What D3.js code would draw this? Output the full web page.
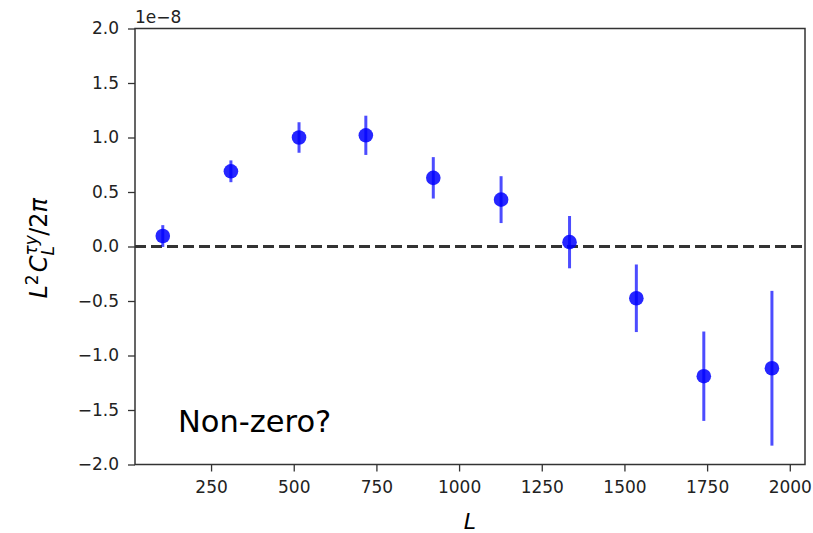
<!DOCTYPE html>
<html>
<head>
<meta charset="utf-8">
<script src="https://cdn.jsdelivr.net/npm/d3@7"></script>
<style>
  body { margin: 0; background: #fff; }
  text { font-family: "DejaVu Sans", sans-serif; }
</style>
</head>
<body>
<svg id="chart" width="813" height="533"></svg>
<script>
// binned L centres, cross-spectrum values (units of 1e-8) and 1-sigma errors
const ells = [104, 310, 516, 718, 922, 1127, 1334, 1536, 1740, 1946];
const vals = [0.096, 0.69, 1.0, 1.02, 0.63, 0.43, 0.04, -0.475, -1.19, -1.117];
const errs = [0.10, 0.10, 0.14, 0.18, 0.19, 0.215, 0.24, 0.31, 0.41, 0.71];

const xTicks = [250, 500, 750, 1000, 1250, 1500, 1750, 2000];
const yTicks = [-2.0, -1.5, -1.0, -0.5, 0.0, 0.5, 1.0, 1.5, 2.0];

const margin = {left: 135, right: 8, top: 28.5, bottom: 68.5};
const W = 813, H = 533;

let svg = d3.select("#chart");

let x = d3.scaleLinear().domain([20, 2046]).range([margin.left, W - margin.right]);
let y = d3.scaleLinear().domain([-2, 2]).range([H - margin.bottom, margin.top]);

let points = ells.map(function(l, i) { return {l: l, v: vals[i], e: errs[i]}; });

// zero reference line
svg.append("line")
  .attr("x1", x.range()[0]).attr("x2", x.range()[1])
  .attr("y1", y(0)).attr("y2", y(0))
  .attr("stroke", "#333")
  .attr("stroke-width", 3)
  .attr("stroke-dasharray", "11,5");

// error bars
svg.append("g").selectAll("line").data(points).enter().append("line")
  .attr("x1", function(d) { return x(d.l); })
  .attr("x2", function(d) { return x(d.l); })
  .attr("y1", function(d) { return y(d.v + d.e); })
  .attr("y2", function(d) { return y(d.v - d.e); })
  .attr("stroke", "#0000ff")
  .attr("stroke-opacity", 0.7)
  .attr("stroke-width", 3);

svg.append("g").selectAll("circle").data(points).enter().append("circle")
  .attr("cx", function(d) { return x(d.l); })
  .attr("cy", function(d) { return y(d.v); })
  .attr("r", 7.3)
  .attr("fill", "#0000ff")
  .attr("fill-opacity", 0.85);

// axes
let xAxis = svg.append("g")
  .attr("transform", "translate(0," + (H - margin.bottom) + ")")
  .call(d3.axisBottom(x).tickValues(xTicks).tickSize(7).tickPadding(9).tickFormat(d3.format("d")));

let yAxis = svg.append("g")
  .attr("transform", "translate(" + margin.left + ",0)")
  .call(d3.axisLeft(y).tickValues(yTicks).tickSize(7).tickPadding(9)
    .tickFormat(function(d) { return d3.format(".1f")(d).replace("-", "\u2212"); }));

[xAxis, yAxis].forEach(function(a) {
  a.select(".domain").remove();
  a.selectAll("line").attr("stroke", "#333").attr("stroke-width", 1.3);
  a.selectAll("text").attr("fill", "#222").style("font-size", "17px");
});

// frame
svg.append("rect")
  .attr("x", margin.left).attr("y", margin.top)
  .attr("width", W - margin.left - margin.right)
  .attr("height", H - margin.top - margin.bottom)
  .attr("fill", "none")
  .attr("stroke", "#333")
  .attr("stroke-width", 1.5);

// offset text
svg.append("text")
  .attr("x", margin.left).attr("y", 23)
  .attr("fill", "#222")
  .style("font-size", "17px")
  .text("1e\u22128");

// x label
svg.append("text")
  .attr("x", (margin.left + W - margin.right) / 2).attr("y", 529)
  .attr("text-anchor", "middle")
  .style("font-size", "22px")
  .style("font-style", "italic")
  .text("L");

// y label: L^2 C_L^{τy} / 2π
let yl = svg.append("text")
  .style("font-size", "24px");
yl.append("tspan").style("font-style", "italic").text("L");
yl.append("tspan").attr("dy", -9).style("font-size", "17px").text("2");
yl.append("tspan").attr("dy", 9).attr("dx", 2).style("font-style", "italic").text("C");
let sup = yl.append("tspan").attr("dy", -10).style("font-size", "17px").style("font-style", "italic").text("\u03c4y");
let supW = sup.node().getComputedTextLength();
yl.append("tspan").attr("dy", 17).attr("dx", -supW).style("font-size", "17px").style("font-style", "italic").text("L");
yl.append("tspan").attr("dy", -7).attr("dx", supW - 10).text("/2");
yl.append("tspan").style("font-style", "italic").text("\u03c0");
let bb = yl.node().getBBox();
yl.attr("transform", "translate(47," + (248 + bb.width / 2) + ") rotate(-90)");

// annotation
svg.append("text")
  .attr("x", 178).attr("y", 432)
  .attr("fill", "#000")
  .style("font-size", "30.5px")
  .text("Non-zero?");
</script>
</body>
</html>
